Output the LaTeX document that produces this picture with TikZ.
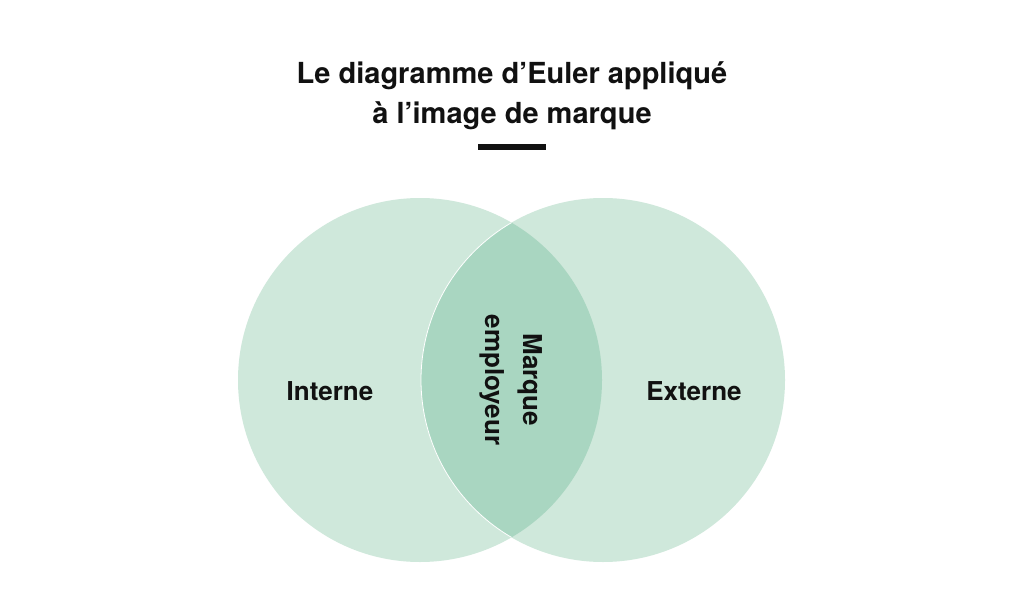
\documentclass[tikz,border=0pt]{standalone}
\usepackage{fontspec}
\setmainfont{TeX Gyre Heros}
\definecolor{outer}{HTML}{CFE8DB}
\definecolor{lens}{HTML}{A9D6C1}
\definecolor{ink}{HTML}{111111}
\begin{document}
\begin{tikzpicture}[x=1pt,y=-1pt,
  lbl/.style={font=\fontsize{26}{38}\selectfont\bfseries, text=ink, inner sep=0pt},
  ttl/.style={font=\fontsize{29}{40}\selectfont\bfseries, text=ink, inner sep=0pt, align=center}]
\useasboundingbox (0,0) rectangle (1024,615);
\fill[white] (0,0) rectangle (1024,615);
\fill[outer] (420,380) circle (182);
\fill[outer] (603,380) circle (182);
\begin{scope}
  \clip (420,380) circle (182);
  \fill[lens] (603,380) circle (182);
  \draw[white, line width=0.8pt] (603,380) circle (182);
\end{scope}
\node[ttl] (t1) at (512,76) {Le diagramme d’Euler appliqué};
\node[ttl] (t2) at (512,116) {à l’image de marque};
\fill[ink] (478,144) rectangle (546,150);
\node[lbl] (int) at (330,391) {Interne};
\node[lbl] (ext) at (694,391) {Externe};
\node[lbl, rotate=-90, align=center] (mid) at (511,380) {Marque\\employeur};
\end{tikzpicture}
\end{document}
